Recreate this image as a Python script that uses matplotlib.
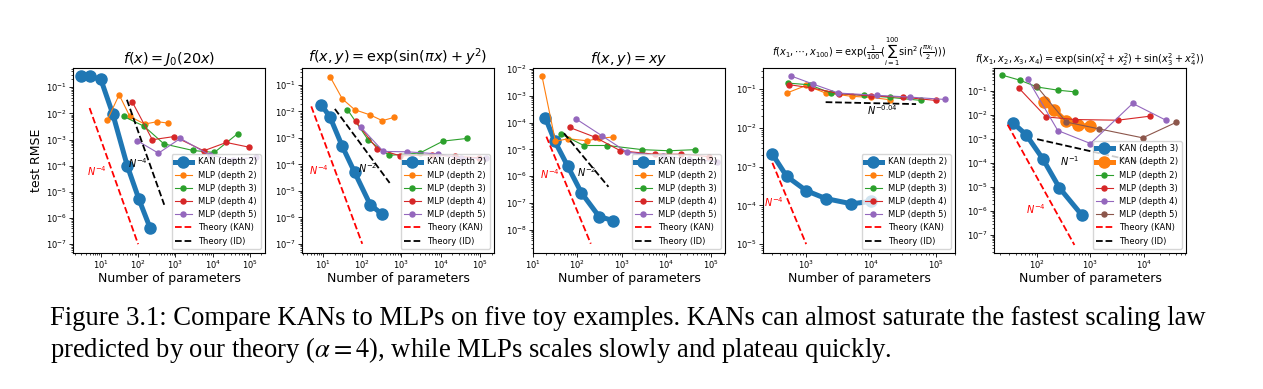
import matplotlib

matplotlib.use("Agg")
import matplotlib.pyplot as plt
import numpy as np

# panel 1: f(x) = J0(20x)
p1_kan_x = [3, 5, 10, 21, 51, 105, 210]
p1_kan_y = [0.26, 0.26, 0.20, 9.3e-3, 1.0e-4, 5.2e-6, 4.1e-7]
p1_mlp2_x = [15, 31, 60, 150, 325, 650]
p1_mlp2_y = [5.6e-3, 0.051, 7.6e-3, 3.9e-3, 4.8e-3, 4.2e-3]
p1_mlp3_x = [41, 145, 490, 2960, 1.1e4, 4.6e4]
p1_mlp3_y = [7.6e-3, 3.2e-3, 6.8e-4, 3.8e-4, 3.2e-4, 1.66e-3]
p1_mlp4_x = [69, 240, 930, 5700, 2.3e4, 9.3e4]
p1_mlp4_y = [0.028, 9.8e-4, 1.3e-3, 3.7e-4, 7.7e-4, 5.1e-4]
p1_mlp5_x = [96, 350, 1350, 8500, 3.5e4, 1.4e5]
p1_mlp5_y = [8.9e-4, 3.0e-4, 1.1e-3, 2.5e-4, 1.7e-4, 2.1e-4]
p1_tkan_x = [5, 100]
p1_tkan_y = [0.016, 1e-7]
p1_tid_x = [50, 500]
p1_tid_y = [0.033, 3.2e-6]

# panel 2: f(x,y) = exp(sin(pi x) + y^2)
p2_kan_x = [9, 15, 31, 64, 160, 325]
p2_kan_y = [0.018, 6.2e-3, 4.8e-4, 5e-5, 3e-6, 1.3e-6]
p2_mlp2_x = [15, 31, 64, 160, 325, 650]
p2_mlp2_y = [0.21, 0.030, 0.0117, 7.4e-3, 4.5e-3, 6e-3]
p2_mlp3_x = [42, 141, 485, 2950, 1.15e4, 4.7e4]
p2_mlp3_y = [0.0117, 8.5e-4, 2.2e-4, 2.7e-4, 7.6e-4, 9.6e-4]
p2_mlp4_x = [68, 240, 940, 5900, 2.35e4, 9.6e4]
p2_mlp4_y = [4.2e-3, 3.9e-4, 2.1e-4, 2.3e-4, 2.0e-4, 1.8e-4]
p2_mlp5_x = [93, 345, 1390, 8700, 3.4e4, 1.4e5]
p2_mlp5_y = [2.5e-3, 3.1e-4, 3.0e-4, 2.5e-4, 1.7e-4, 1.7e-4]
p2_tkan_x = [5, 100]
p2_tkan_y = [0.0156, 1e-7]
p2_tid_x = [20, 500]
p2_tid_y = [0.0125, 2e-5]

# panel 3: f(x,y) = xy
p3_kan_x = [19, 31, 61, 123, 308, 635]
p3_kan_y = [1.5e-4, 2e-5, 2.3e-6, 2.4e-7, 3.1e-8, 2.2e-8]
p3_mlp2_x = [16, 32, 61, 165, 310, 635]
p3_mlp2_y = [5.3e-3, 2e-5, 2.5e-5, 2.1e-5, 2.6e-5, 2.9e-5]
p3_mlp3_x = [42, 139, 475, 2880, 1.15e4, 4.5e4]
p3_mlp3_y = [3.8e-5, 1.4e-5, 1.4e-5, 9.8e-6, 8.9e-6, 9.8e-6]
p3_mlp4_x = [67, 245, 930, 5500, 2.2e4, 9e4]
p3_mlp4_y = [6.6e-5, 2.9e-5, 8.9e-6, 6.6e-6, 6.6e-6, 5.4e-6]
p3_mlp5_x = [95, 350, 1320, 8300, 3.3e4, 1.4e5]
p3_mlp5_y = [1.35e-4, 3.3e-5, 7.8e-6, 5.8e-6, 4.3e-6, 3.5e-6]
p3_tkan_x = [20, 200]
p3_tkan_y = [3e-5, 3e-9]
p3_tid_x = [50, 500]
p3_tid_y = [4e-5, 4e-7]

# panel 4: 100-dim
p4_kan_x = [300, 500, 1000, 2000, 5000, 10000]
p4_kan_y = [2.1e-3, 5.6e-4, 2.4e-4, 1.5e-4, 1.1e-4, 1.26e-4]
p4_mlp2_x = [500, 1000, 2000, 5100, 1e4, 2e4]
p4_mlp2_y = [0.079, 0.124, 0.079, 0.065, 0.061, 0.053]
p4_mlp3_x = [520, 1130, 2400, 7700, 2e4, 6e4]
p4_mlp3_y = [0.143, 0.129, 0.079, 0.069, 0.061, 0.051]
p4_mlp4_x = [540, 1190, 3260, 1e4, 3.1e4, 1e5]
p4_mlp4_y = [0.13, 0.108, 0.076, 0.067, 0.062, 0.051]
p4_mlp5_x = [575, 1270, 3150, 1.26e4, 4.1e4, 1.4e5]
p4_mlp5_y = [0.22, 0.135, 0.079, 0.069, 0.062, 0.054]
p4_tkan_x = [300, 1000]
p4_tkan_y = [1.25e-3, 1.0e-5]
p4_tid_x = [2000, 5e4]
p4_tid_y = [0.046, 0.041]

# panel 5: 4-dim
p5_kan3_x = [35, 62, 128, 262, 700]
p5_kan3_y = [4.8e-3, 1.55e-3, 1.5e-4, 9.3e-6, 6.6e-7]
p5_kan2_x = [133, 211, 350, 580, 960]
p5_kan2_y = [0.035, 0.016, 5.6e-3, 3.8e-3, 3.5e-3]
p5_mlp2_x = [22, 47, 100, 250, 515]
p5_mlp2_y = [0.47, 0.29, 0.15, 0.11, 0.094]
p5_mlp3_x = [45, 147, 517, 3260, 1.3e4]
p5_mlp3_y = [0.138, 8.5e-3, 6.6e-3, 6.2e-3, 9.1e-3]
p5_mlp4_x = [67, 244, 1000, 6200, 2.6e4]
p5_mlp4_y = [0.31, 2.3e-3, 6.6e-4, 0.031, 6.2e-3]
p5_mlp5_x = [96, 350, 1440, 9550, 4.1e4]
p5_mlp5_y = [0.17, 5.2e-3, 2.7e-3, 1.14e-3, 5.1e-3]
p5_tkan_x = [28, 500]
p5_tkan_y = [4e-3, 3.9e-8]
p5_tid_x = [100, 1e4]
p5_tid_y = [1e-3, 1e-4]

TITLES = [
    r"$f(x)=J_0(20x)$",
    r"$f(x,y)=\exp(\sin(\pi x)+y^2)$",
    r"$f(x,y)=xy$",
    r"$f(x_1,\cdots,x_{100})=\exp(\frac{1}{100}(\sum_{i=1}^{100}\sin^2(\frac{\pi x_i}{2})))$",
    r"$f(x_1,x_2,x_3,x_4)=\exp(\sin(x_1^2+x_2^2)+\sin(x_3^2+x_4^2))$",
]
CAPTION_1 = ("Figure 3.1: Compare KANs to MLPs on five toy examples. "
             "KANs can almost saturate the fastest scaling law")
CAPTION_2 = (r"predicted by our theory ($\alpha=4$), while MLPs scales slowly "
             "and plateau quickly.")

W, H = 1263, 389
AX_LEFTS = [73, 302, 533, 763, 994]
AX_TOP, AX_BOTTOM, AX_W = 68, 253, 192

LIMS = [
    ((1.8, 2.5e5), (4.6e-8, 0.54)),
    ((2.9, 2.3e5), (4.5e-8, 0.44)),
    ((10, 2.1e5), (1.35e-9, 0.011)),
    ((215, 2.0e5), (5.9e-6, 0.35)),
    ((15.5, 6.2e4), (1.8e-8, 0.93)),
]
TITLE_PADS = [3, 3, 3, 0, 1.5]


def kan(ax, x, y, color, label):
    ax.plot(x, y, marker="o", color=color, lw=3.6, ms=8, label=label)


def mlp(ax, x, y, color, label):
    ax.plot(x, y, marker="o", color=color, lw=0.8, ms=3.6, label=label)


def theory(ax, tk, ti):
    ax.plot(tk[0], tk[1], "r--", lw=1.3, label="Theory (KAN)")
    ax.plot(ti[0], ti[1], "k--", lw=1.3, label="Theory (ID)")


def main() -> None:
    fig = plt.figure(figsize=(W / 100, H / 100), dpi=100)
    axes = []
    for left in AX_LEFTS:
        ax = fig.add_axes([left / W, 1 - AX_BOTTOM / H, AX_W / W, (AX_BOTTOM - AX_TOP) / H])
        axes.append(ax)

    standard = [
        (p1_kan_x, p1_kan_y, [(p1_mlp2_x, p1_mlp2_y), (p1_mlp3_x, p1_mlp3_y), (p1_mlp4_x, p1_mlp4_y), (p1_mlp5_x, p1_mlp5_y)], (p1_tkan_x, p1_tkan_y), (p1_tid_x, p1_tid_y)),
        (p2_kan_x, p2_kan_y, [(p2_mlp2_x, p2_mlp2_y), (p2_mlp3_x, p2_mlp3_y), (p2_mlp4_x, p2_mlp4_y), (p2_mlp5_x, p2_mlp5_y)], (p2_tkan_x, p2_tkan_y), (p2_tid_x, p2_tid_y)),
        (p3_kan_x, p3_kan_y, [(p3_mlp2_x, p3_mlp2_y), (p3_mlp3_x, p3_mlp3_y), (p3_mlp4_x, p3_mlp4_y), (p3_mlp5_x, p3_mlp5_y)], (p3_tkan_x, p3_tkan_y), (p3_tid_x, p3_tid_y)),
        (p4_kan_x, p4_kan_y, [(p4_mlp2_x, p4_mlp2_y), (p4_mlp3_x, p4_mlp3_y), (p4_mlp4_x, p4_mlp4_y), (p4_mlp5_x, p4_mlp5_y)], (p4_tkan_x, p4_tkan_y), (p4_tid_x, p4_tid_y)),
    ]
    for ax, (kx, ky, mlps, tk, ti) in zip(axes[:4], standard):
        kan(ax, kx, ky, "C0", "KAN (depth 2)")
        for d, (mx, my) in enumerate(mlps):
            mlp(ax, mx, my, f"C{d + 1}", f"MLP (depth {d + 2})")
        theory(ax, tk, ti)

    ax = axes[4]
    kan(ax, p5_kan3_x, p5_kan3_y, "C0", "KAN (depth 3)")
    kan(ax, p5_kan2_x, p5_kan2_y, "C1", "KAN (depth 2)")
    for d, (mx, my) in enumerate([(p5_mlp2_x, p5_mlp2_y), (p5_mlp3_x, p5_mlp3_y), (p5_mlp4_x, p5_mlp4_y), (p5_mlp5_x, p5_mlp5_y)]):
        mlp(ax, mx, my, f"C{d + 2}", f"MLP (depth {d + 2})")
    theory(ax, (p5_tkan_x, p5_tkan_y), (p5_tid_x, p5_tid_y))

    # slope annotations
    tsize = 7
    axes[0].text(8, 6e-5, r"$N^{-4}$", color="red", fontsize=tsize, ha="center", va="center")
    axes[0].text(100, 1.3e-4, r"$N^{-4}$", color="black", fontsize=tsize, ha="center", va="center")
    axes[1].text(7.9, 6.3e-5, r"$N^{-4}$", color="red", fontsize=tsize, ha="center", va="center")
    axes[1].text(135, 7.2e-5, r"$N^{-2}$", color="black", fontsize=tsize, ha="center", va="center")
    axes[2].text(24, 1.2e-6, r"$N^{-4}$", color="red", fontsize=tsize, ha="center", va="center")
    axes[2].text(165, 1.4e-6, r"$N^{-2}$", color="black", fontsize=tsize, ha="center", va="center")
    axes[3].text(317, 1.2e-4, r"$N^{-4}$", color="red", fontsize=tsize, ha="center", va="center")
    axes[3].text(1.5e4, 0.029, r"$N^{-0.04}$", color="black", fontsize=tsize, ha="center", va="center")
    axes[4].text(93, 1.26e-6, r"$N^{-4}$", color="red", fontsize=tsize, ha="center", va="center")
    axes[4].text(415, 1.2e-4, r"$N^{-1}$", color="black", fontsize=tsize, ha="center", va="center")

    for i, ax in enumerate(axes):
        ax.set_xscale("log")
        ax.set_yscale("log")
        ax.set_xlim(*LIMS[i][0])
        ax.set_ylim(*LIMS[i][1])
        ax.tick_params(labelsize=6, length=2.6, width=0.6, pad=2)
        ax.tick_params(which="minor", length=1.6, width=0.5)
        ax.tick_params(axis="x", pad=1.5)
        ax.set_xlabel("Number of parameters", fontsize=9, labelpad=1)
        ax.legend(loc="lower right", fontsize=6)
        ax.set_title(TITLES[i], fontsize=10.4 if i < 3 else 7, pad=TITLE_PADS[i])
    axes[0].set_ylabel("test RMSE", fontsize=9, labelpad=2)

    fig.text(50 / W, 1 - 325 / H, CAPTION_1, family="Liberation Serif", fontsize=19.2,
             va="baseline", ha="left", math_fontfamily="stix")
    fig.text(50 / W, 1 - 357 / H, CAPTION_2, family="Liberation Serif", fontsize=19.2,
             va="baseline", ha="left", math_fontfamily="stix")

    fig.savefig("out.png", dpi=100)
    plt.close(fig)


if __name__ == "__main__":
    main()
